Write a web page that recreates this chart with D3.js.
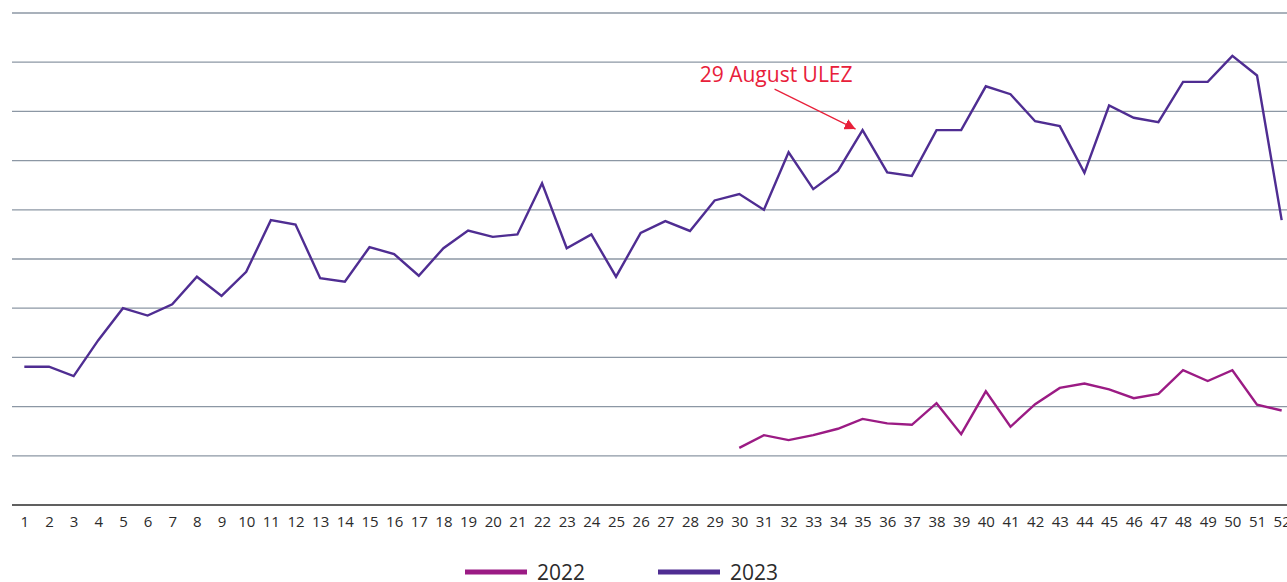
<!DOCTYPE html>
<html>
<head>
<meta charset="utf-8">
<script src="https://cdn.jsdelivr.net/npm/d3@7"></script>
<style>
  body { margin: 0; background: #fff; }
  svg { display: block; font-family: "Open Sans", "Noto Sans", sans-serif; }
</style>
</head>
<body>
<svg id="chart"></svg>
<script>
// weeks 1..52
const weeks = d3.range(1, 53);

// 2023 weekly values (no y labels in the original, read as share of axis height 0-100)
const values2023 = [
  28.1, 28.1, 26.2, 33.5, 40.0, 38.5, 40.8, 46.4, 42.5, 47.4,
  57.9, 57.0, 46.1, 45.4, 52.4, 51.0, 46.6, 52.2, 55.8, 54.5,
  55.0, 65.4, 52.2, 55.0, 46.4, 55.3, 57.7, 55.7, 61.9, 63.2,
  60.0, 71.7, 64.2, 67.9, 76.2, 67.6, 66.9, 76.2, 76.2, 85.1,
  83.5, 78.0, 77.0, 67.5, 81.2, 78.7, 77.8, 86.0, 86.0, 91.3,
  87.3, 57.9
];

// 2022 only starts at week 30
const weeks2022 = d3.range(30, 53);
const values2022 = [
  11.6, 14.2, 13.2, 14.2, 15.5, 17.5, 16.6, 16.3, 20.7, 14.4,
  23.1, 15.9, 20.5, 23.8, 24.7, 23.5, 21.7, 22.6, 27.4, 25.2,
  27.4, 20.4, 19.2
];

const yTicks = d3.range(0, 101, 10);
const annotationWeek = 35;
const annotationText = "29 August ULEZ";

const series = [
  { name: "2022", color: "#9b1b84", weeks: weeks2022, values: values2022 },
  { name: "2023", color: "#4f2d92", weeks: weeks, values: values2023 }
];

const width = 1287;
const height = 582;

const svg = d3.select("#chart").attr("width", width).attr("height", height);

const x = d3.scalePoint()
  .domain(weeks)
  .range([12, 1294])
  .padding(0.5);

const y = d3.scaleLinear()
  .domain([0, 100])
  .range([505, 13]);

// gridlines
svg.append("g")
  .selectAll("line")
  .data(yTicks.filter(d => d > 0))
  .enter()
  .append("line")
  .attr("x1", 12)
  .attr("x2", width)
  .attr("y1", d => y(d))
  .attr("y2", d => y(d))
  .attr("stroke", "#8c97a4")
  .attr("stroke-width", 1.3);

// x axis
const xAxis = svg.append("g")
  .attr("transform", "translate(0," + y(0) + ")")
  .call(d3.axisBottom(x).tickSize(0).tickPadding(11));

xAxis.select(".domain")
  .attr("d", "M12,0H" + width)
  .attr("stroke", "#2b2b2b")
  .attr("stroke-width", 1.6);

xAxis.selectAll("text")
  .style("font-size", "15px")
  .style("font-family", "\"Open Sans\", sans-serif")
  .attr("fill", "#2b2b2b");

// lines
const line = d3.line()
  .x(d => x(d[0]))
  .y(d => y(d[1]));

series.forEach(s => {
  svg.append("path")
    .datum(d3.zip(s.weeks, s.values))
    .attr("fill", "none")
    .attr("stroke", s.color)
    .attr("stroke-width", 2.4)
    .attr("stroke-linejoin", "miter")
    .attr("d", line);
});

// annotation
const ax = x(annotationWeek);
const ay = y(values2023[annotationWeek - 1]);

svg.append("defs").append("marker")
  .attr("id", "arrow")
  .attr("viewBox", "0 0 10 10")
  .attr("refX", 10)
  .attr("refY", 5)
  .attr("markerWidth", 11)
  .attr("markerHeight", 11)
  .attr("markerUnits", "userSpaceOnUse")
  .attr("orient", "auto")
  .append("path")
  .attr("d", "M0,0L10,5L0,10Z")
  .attr("fill", "#e8203a");

svg.append("line")
  .attr("x1", ax - 88)
  .attr("y1", ay - 41)
  .attr("x2", ax - 7)
  .attr("y2", ay - 1)
  .attr("stroke", "#e8203a")
  .attr("stroke-width", 1.2)
  .attr("marker-end", "url(#arrow)");

svg.append("text")
  .attr("x", ax - 10)
  .attr("y", ay - 48)
  .attr("text-anchor", "end")
  .attr("fill", "#e8203a")
  .style("font-size", "21px")
  .text(annotationText);

// legend
const legend = svg.append("g");
const legendX = [465, 658];

series.forEach((s, i) => {
  const g = legend.append("g").attr("transform", "translate(" + legendX[i] + ",572)");
  g.append("line")
    .attr("x1", 0)
    .attr("x2", 62)
    .attr("stroke", s.color)
    .attr("stroke-width", 5);
  g.append("text")
    .attr("x", 72)
    .attr("y", 8)
    .attr("fill", "#2b2b2b")
    .style("font-size", "21px")
    .text(s.name);
});
</script>
</body>
</html>
